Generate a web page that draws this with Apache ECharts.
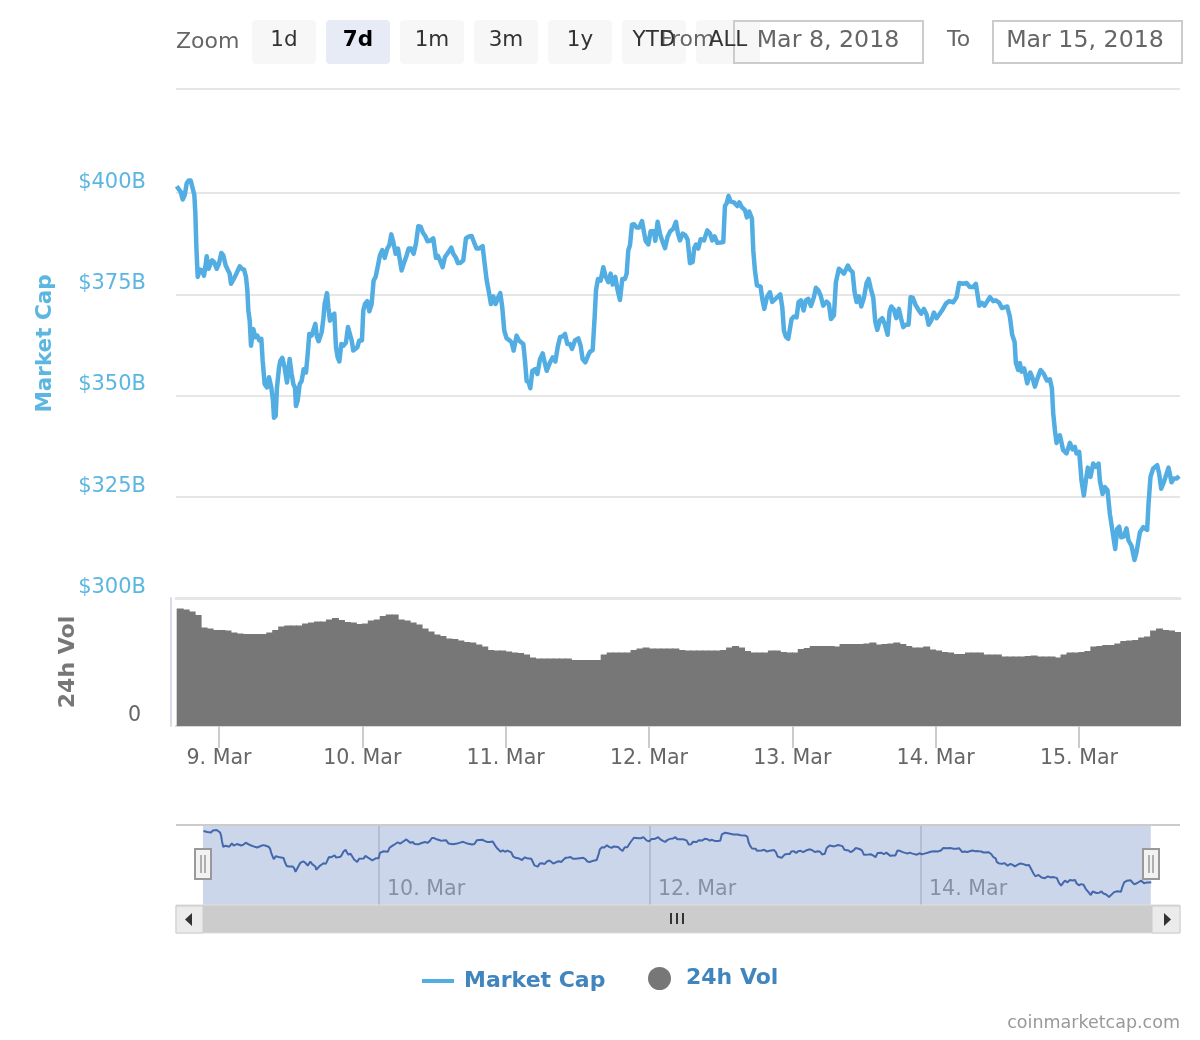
<!DOCTYPE html>
<html lang="en">
<head>
<meta charset="UTF-8">
<title>Market Cap</title>
<style>
  html, body { margin: 0; padding: 0; background: #fff; }
  #main { width: 1200px; height: 1040px; }
</style>
</head>
<body>
<div id="main"></div>
<script src="https://cdn.jsdelivr.net/npm/echarts@6/dist/echarts.min.js"></script>
<script>
// hours counted from 9 Mar 2018 00:00
const capHours = [
  -7.08,-6.75,-6.41,-6.08,-5.74,-5.41,-5.08,-4.74,-4.41,-4.13,
  -3.96,-3.79,-3.57,-3.18,-2.84,-2.51,-2.29,-2.06,-1.73,-1.50,
  -1.17,-0.83,-0.39,0.00,0.39,0.73,1.12,1.45,1.79,2.01,
  2.40,2.85,3.18,3.46,3.85,4.19,4.52,4.75,4.91,5.14,
  5.36,5.75,6.08,6.42,6.75,7.09,7.31,7.65,8.04,8.37,
  8.76,9.04,9.21,9.49,9.71,10.05,10.27,10.60,10.99,11.39,
  11.83,12.17,12.45,12.73,12.89,13.17,13.51,13.84,14.18,14.57,
  14.85,15.12,15.52,15.85,16.13,16.41,16.69,17.19,17.47,17.69,
  18.08,18.31,18.58,18.97,19.31,19.59,19.87,20.15,20.48,20.82,
  21.26,21.60,21.93,22.21,22.49,22.82,23.16,23.49,23.94,24.16,
  24.44,24.83,25.17,25.56,25.89,26.23,26.62,26.95,27.34,27.74,
  28.18,28.52,28.85,29.19,29.58,29.97,30.30,30.58,31.03,31.42,
  31.75,32.14,32.59,32.98,33.37,33.76,34.15,34.54,34.93,35.32,
  35.88,36.33,36.66,37.11,37.44,37.84,38.23,38.56,38.90,39.23,
  39.68,40.01,40.46,40.90,41.18,41.35,41.74,42.30,42.69,43.14,
  43.58,44.14,44.48,44.81,45.20,45.54,45.93,46.32,46.76,47.10,
  47.43,47.77,48.16,48.66,49.00,49.33,49.83,50.22,50.96,51.24,
  51.52,51.86,52.13,52.47,52.92,53.31,53.75,54.20,54.53,54.87,
  55.43,55.87,56.32,56.71,57.10,57.55,57.94,58.33,58.77,59.11,
  59.61,60.17,60.56,60.89,61.34,61.79,62.12,62.57,62.90,63.13,
  63.46,63.91,64.35,64.74,65.19,65.58,65.92,66.36,66.75,67.14,
  67.53,67.98,68.26,68.54,68.82,69.15,69.49,69.93,70.38,70.83,
  71.16,71.44,71.89,72.28,72.84,73.06,73.45,73.84,74.29,74.68,
  75.12,75.57,76.07,76.52,76.85,77.19,77.64,78.08,78.47,78.86,
  79.31,79.59,79.87,80.26,80.65,81.21,81.76,82.21,82.60,82.99,
  83.44,84.00,84.44,84.72,85.00,85.33,85.67,86.23,86.79,87.12,
  87.51,88.07,88.40,88.80,89.24,89.46,89.74,90.08,90.69,90.97,
  91.31,91.75,92.25,92.64,93.20,93.98,94.32,94.60,94.93,95.32,
  95.88,96.27,96.72,97.05,97.44,97.89,98.28,98.67,99.12,99.62,
  99.95,100.35,100.74,101.18,101.74,102.13,102.47,102.97,103.30,103.80,
  104.25,104.64,105.31,105.65,106.09,106.43,106.76,107.16,107.55,107.99,
  108.44,108.77,109.11,109.56,109.89,110.23,110.67,111.06,111.51,111.96,
  112.29,112.57,113.02,113.41,113.85,114.19,114.58,115.02,115.47,115.81,
  116.20,116.64,117.20,117.59,118.04,118.48,118.82,119.27,119.71,120.16,
  120.60,121.16,121.72,122.28,122.95,123.51,123.95,124.62,125.18,125.74,
  126.30,126.74,127.30,127.75,128.19,129.09,129.64,130.09,130.65,131.09,
  131.99,132.43,132.82,133.22,133.44,133.83,134.11,134.39,134.83,135.34,
  135.84,136.23,136.62,137.07,137.57,138.13,138.63,139.13,139.47,139.69,
  139.97,140.25,140.80,141.36,141.92,142.48,142.92,143.32,143.59,144.04,
  144.43,144.82,145.16,145.49,145.94,146.38,146.83,147.28,147.50,147.95,
  148.34,148.78,149.17,149.73,150.07,150.40,150.74,151.07,151.52,151.96,
  152.30,152.80,153.30,153.64,154.20,154.76,155.42,155.65,155.98,156.43,
  157.10,157.43,157.77,158.21,159.00,159.50,159.89,160.34,160.78
];
// market cap in $B
const capValues = [
  401.7,402.1,400.3,398.4,399.5,402.4,403.1,403.1,401.2,399.5,
  395.0,386.7,379.3,381.1,380.9,379.6,381.7,384.4,381.3,381.6,
  383.4,383.0,381.3,382.6,385.2,384.6,382.1,382.1,380.1,377.6,
  378.6,379.9,379.7,381.9,381.3,381.1,379.3,376.0,371.0,368.5,
  362.3,366.4,364.4,364.8,363.6,364.0,358.6,352.8,352.0,354.5,
  352.0,348.7,344.5,345.0,352.0,356.9,358.6,359.3,356.9,353.2,
  359.0,355.3,352.8,352.0,347.4,348.7,352.8,353.6,356.5,355.7,
  360.2,365.2,364.8,364.4,367.7,364.4,363.4,365.6,368.9,372.6,
  375.3,371.8,368.5,369.8,370.2,361.9,359.4,358.4,362.7,362.3,
  363.1,366.9,367.3,363.6,361.1,360.7,361.9,363.6,363.6,371.0,
  372.6,373.3,370.8,372.6,378.4,379.3,382.1,384.6,385.9,384.0,
  386.3,387.1,389.8,387.9,385.0,386.3,383.4,380.9,383.0,384.6,
  386.3,386.3,385.0,387.5,391.8,391.7,390.2,389.4,388.1,388.2,
  388.8,384.0,384.5,383.0,381.7,384.2,385.0,384.9,386.5,385.0,
  384.0,382.7,382.8,383.4,383.6,388.8,389.2,389.4,387.9,386.3,
  386.3,386.9,382.6,378.6,375.5,372.6,374.5,372.6,374.3,375.3,
  371.8,366.0,364.1,363.6,363.1,361.1,364.8,363.6,362.7,358.6,
  353.6,353.2,351.8,356.1,356.5,355.3,359.0,360.4,358.2,356.1,
  358.2,359.4,358.4,361.9,364.4,364.6,365.2,362.7,362.7,361.5,
  363.6,364.1,362.3,359.0,358.2,359.8,360.8,361.2,369.3,376.0,
  378.8,378.4,381.7,379.4,378.0,380.1,377.4,379.3,376.0,373.6,
  378.8,378.8,380.1,385.9,387.1,392.2,392.3,391.5,391.5,393.1,
  390.4,388.2,387.3,390.6,390.6,388.2,392.9,390.0,387.9,386.4,
  389.2,390.6,391.2,392.9,390.0,388.3,390.0,389.6,388.5,382.7,
  383.0,386.5,387.3,386.3,388.6,388.3,390.8,390.0,388.3,389.3,
  387.7,387.8,387.9,396.8,397.4,399.3,397.9,397.7,396.8,397.7,
  396.6,395.8,394.0,395.4,393.7,385.9,380.9,377.2,376.9,373.9,
  371.4,374.3,375.5,373.1,373.9,375.0,371.8,366.0,364.5,364.0,
  368.9,369.5,369.3,373.1,373.5,371.0,373.5,373.9,372.1,374.3,
  376.6,376.0,374.7,372.2,373.2,372.6,368.9,369.8,378.0,381.3,
  380.7,380.1,382.1,381.1,380.5,375.5,373.1,374.5,372.0,374.1,
  377.8,378.8,376.6,374.1,368.3,366.2,368.6,369.1,367.5,365.0,
  370.8,372.0,371.2,369.1,371.4,369.1,366.9,367.5,367.5,374.3,
  374.1,372.4,371.0,370.2,371.4,370.0,367.5,368.5,370.5,369.1,
  370.0,371.2,372.7,373.3,373.0,374.3,377.8,377.6,377.8,376.8,
  376.8,377.6,372.2,372.9,372.2,374.3,373.3,373.5,372.9,371.6,
  372.0,369.5,365.0,363.3,358.0,356.3,358.0,355.9,356.7,353.0,
  355.7,354.3,352.2,354.3,356.3,355.3,353.7,354.0,351.8,345.6,
  341.5,338.3,340.2,336.5,335.7,338.3,336.7,337.3,335.7,336.1,
  329.0,325.3,329.0,332.2,329.9,333.2,332.4,333.2,329.0,325.7,
  327.4,326.6,320.8,315.4,312.1,317.1,317.6,315.0,315.2,317.2,
  314.2,312.9,309.4,311.3,316.2,317.5,316.8,323.3,329.9,332.0,
  332.8,330.7,327.0,328.6,332.2,328.6,329.5,329.5,330.1
];
// 24h volume in $B, one bar per hour
const volValues = [
  23.5,23.3,22.9,22.2,19.7,19.5,19.2,19.2,19.1,18.7,
  18.5,18.4,18.4,18.4,18.4,18.7,19.2,19.9,20.1,20.1,
  20.1,20.5,20.7,20.9,20.9,21.3,21.6,21.2,20.8,20.7,
  20.4,20.5,21.1,21.3,22.0,22.3,22.3,21.3,21.1,20.7,
  20.3,19.5,18.9,18.3,18.0,17.5,17.4,17.1,16.8,16.7,
  16.3,15.9,15.2,15.1,15.1,14.9,14.7,14.6,14.3,13.7,
  13.5,13.5,13.5,13.5,13.5,13.5,13.2,13.2,13.2,13.2,
  13.2,14.3,14.7,14.7,14.7,14.7,15.2,15.5,15.7,15.5,
  15.5,15.5,15.5,15.5,15.2,15.1,15.1,15.1,15.1,15.1,
  15.1,15.2,15.7,16.0,15.7,15.0,14.7,14.7,14.7,15.1,
  15.1,14.8,14.7,14.7,15.4,15.6,16.0,16.0,16.0,16.0,
  15.9,16.4,16.4,16.4,16.4,16.5,16.7,16.3,16.4,16.5,
  16.7,16.4,16.0,15.7,15.7,15.9,15.3,15.1,14.8,14.7,
  14.4,14.4,14.7,14.7,14.7,14.3,14.3,14.3,13.9,13.9,
  13.9,13.9,14.0,14.1,13.9,13.9,13.9,13.7,14.3,14.7,
  14.7,14.8,15.0,15.9,16.0,16.2,16.2,16.5,17.0,17.1,
  17.2,17.7,17.9,19.1,19.5,19.2,19.1,18.8
];
const volStartHour = -6.5;
const capTicks = [300, 325, 350, 375, 400];
const dayHours = [0, 24, 48, 72, 96, 120, 144];
const dayLabels = ['9. Mar', '10. Mar', '11. Mar', '12. Mar', '13. Mar', '14. Mar', '15. Mar'];
const navDayHours = [24, 72, 120];
const navDayLabels = ['10. Mar', '12. Mar', '14. Mar'];
const zoomButtons = ['1d', '7d', '1m', '3m', '1y', 'YTD', 'ALL'];
const zoomSelected = '7d';
const fromDate = 'Mar 8, 2018';
const toDate = 'Mar 15, 2018';

const FONT = '"DejaVu Sans", sans-serif';
const CAP_COLOR = '#52ade3';
const CAP_TEXT = '#5cb6e2';
const GRID_COLOR = '#e6e6e6';
const VOL_COLOR = '#777777';

const capLine = capHours.map((h, i) => [h, capValues[i]]);
const volBars = volValues.map((v, i) => [volStartHour + i, v]);

const dayLabel = v => dayLabels[dayHours.indexOf(v)];
const navLabel = v => navDayLabels[navDayHours.indexOf(v)];

// range selector, date inputs, scrollbar
function textEl(text, x, y, size, color, extra) {
  return {
    type: 'text', x: x, y: y, z: 20,
    style: Object.assign({ text: text, font: size + 'px ' + FONT, fill: color, verticalAlign: 'middle' }, extra)
  };
}
function rectEl(x, y, w, h, fill, stroke, r, lineWidth) {
  return {
    type: 'rect', z: 10,
    shape: { x: x, y: y, width: w, height: h, r: r || 0 },
    style: { fill: fill, stroke: stroke || null, lineWidth: lineWidth || 0 }
  };
}
function lineEl(x1, y1, x2, y2, color, width) {
  return {
    type: 'line', z: 15,
    shape: { x1: x1, y1: y1, x2: x2, y2: y2 },
    style: { stroke: color, lineWidth: width }
  };
}
function triEl(points) {
  return { type: 'polygon', z: 15, shape: { points: points }, style: { fill: '#333' } };
}
function handleEls(left) {
  return [
    rectEl(left, 849, 16, 30, '#f2f2f2', '#999', 0, 2),
    lineEl(left + 6, 855, left + 6, 873, '#999', 1.5),
    lineEl(left + 10, 855, left + 10, 873, '#999', 1.5)
  ];
}

const graphics = [
  textEl('Zoom', 176, 42, 22, '#666'),
  textEl('From', 660, 40, 22, '#666'),
  textEl('To', 947, 40, 22, '#666'),
  lineEl(176, 825, 1180, 825, '#cccccc', 2),
  rectEl(176, 905, 1004, 28, '#cccccc', '#dddddd', 0, 1),
  rectEl(176, 906, 27, 27, '#ebebeb', '#cccccc', 0, 1),
  rectEl(1152, 906, 28, 27, '#ebebeb', '#cccccc', 0, 1),
  triEl([[192, 913], [192, 926], [185, 919.5]]),
  triEl([[1164, 913], [1164, 926], [1171, 919.5]]),
  lineEl(671, 913, 671, 924, '#333', 2),
  lineEl(677, 913, 677, 924, '#333', 2),
  lineEl(683, 913, 683, 924, '#333', 2),
  textEl('coinmarketcap.com', 1180, 1023, 17.5, '#999', { align: 'right' })
];
zoomButtons.forEach((name, i) => {
  const left = 252 + i * 74;
  const on = name === zoomSelected;
  graphics.push(rectEl(left, 20, 64, 44, on ? '#e6ebf5' : '#f7f7f7', null, 4));
  graphics.push(textEl(name, left + 32, 40, 21.5, on ? '#000' : '#333', {
    align: 'center', font: (on ? 'bold ' : '') + '21.5px ' + FONT
  }));
});
[[734, fromDate, 94], [993, toDate, 92]].forEach(([left, date, mid]) => {
  graphics.push(rectEl(left, 21, 189, 42, 'transparent', '#cccccc', 0, 2));
  graphics.push(textEl(date, left + mid, 41, 23.7, '#666', { align: 'center' }));
});
handleEls(195).forEach(e => graphics.push(e));
handleEls(1143).forEach(e => graphics.push(e));

const option = {
  animation: false,
  backgroundColor: '#fff',
  textStyle: { fontFamily: FONT },
  grid: [
    { left: 176, width: 1004, top: 89, height: 509 },
    { left: 176, width: 1004, top: 598, height: 128 },
    { left: 176, width: 1004, top: 825, height: 80 }
  ],
  xAxis: [
    {
      gridIndex: 0, type: 'value', min: -7.2, max: 160.92,
      splitLine: { show: false }, axisTick: { show: false }, axisLabel: { show: false },
      axisLine: { show: true, lineStyle: { color: GRID_COLOR, width: 3 } }
    },
    {
      gridIndex: 1, type: 'value', min: -7.2, max: 160.92,
      splitLine: { show: false },
      axisLine: { show: true, lineStyle: { color: '#d5d8de', width: 2 } },
      axisTick: { show: true, length: 22, customValues: dayHours, lineStyle: { color: '#cccccc', width: 2 } },
      axisLabel: {
        show: true, customValues: dayHours, formatter: dayLabel, margin: 22,
        color: '#666', fontSize: 20.6, fontFamily: FONT, showMinLabel: true, showMaxLabel: true
      }
    },
    {
      gridIndex: 2, type: 'value', min: -11.95, max: 165.87,
      splitLine: { show: false },
      axisLine: { show: false },
      axisTick: { show: true, inside: true, length: 80, customValues: navDayHours, lineStyle: { color: '#dcdcdc', width: 2 } },
      axisLabel: {
        show: true, inside: true, customValues: navDayHours, formatter: navLabel, margin: 5,
        align: 'left', padding: [0, 0, 0, 8], color: '#999', fontSize: 20.6, fontFamily: FONT
      }
    }
  ],
  yAxis: [
    {
      gridIndex: 0, type: 'value', min: 300, max: 425.7,
      name: 'Market Cap', nameLocation: 'middle', nameGap: 120,
      nameTextStyle: { color: CAP_TEXT, fontSize: 21.5, fontWeight: 'bold', fontFamily: FONT },
      axisLine: { show: false, onZero: false },
      axisTick: { show: false, customValues: capTicks.concat([425.7]) },
      splitLine: { show: true, lineStyle: { color: GRID_COLOR, width: 2 } },
      axisLabel: {
        customValues: capTicks, formatter: v => '$' + v + 'B', margin: 30,
        verticalAlign: 'bottom', color: CAP_TEXT, fontSize: 21, fontFamily: FONT
      }
    },
    {
      gridIndex: 1, type: 'value', min: 0, max: 25.6, offset: 5,
      name: '24h Vol', nameLocation: 'middle', nameGap: 92,
      nameTextStyle: { color: '#777', fontSize: 22, fontWeight: 'bold', fontFamily: FONT },
      axisLine: { show: true, onZero: false, lineStyle: { color: '#d9dce8', width: 2 } },
      axisTick: { show: false, customValues: [0] },
      splitLine: { show: false },
      axisLabel: {
        customValues: [0], margin: 30, verticalAlign: 'bottom',
        color: '#666', fontSize: 20.6, fontFamily: FONT
      }
    },
    {
      gridIndex: 2, type: 'value', min: 298.2, max: 410, show: false
    }
  ],
  legend: [
    {
      data: ['Market Cap'], left: 417, top: 965, icon: 'rect', itemWidth: 32, itemHeight: 4,
      selectedMode: false,
      textStyle: { color: '#4085bd', fontSize: 22, fontWeight: 'bold', fontFamily: FONT, padding: [0, 0, 0, 5] }
    },
    {
      data: ['24h Vol'], left: 643, top: 962, icon: 'circle', itemWidth: 23, itemHeight: 23,
      selectedMode: false,
      textStyle: { color: '#4085bd', fontSize: 22, fontWeight: 'bold', fontFamily: FONT, padding: [3, 0, 0, 10] }
    }
  ],
  series: [
    {
      name: 'Market Cap', type: 'line', xAxisIndex: 0, yAxisIndex: 0,
      data: capLine, showSymbol: false, smooth: false,
      lineStyle: { color: CAP_COLOR, width: 4.5, join: 'round' }, itemStyle: { color: CAP_COLOR }
    },
    {
      name: '24h Vol', type: 'bar', xAxisIndex: 1, yAxisIndex: 1,
      data: volBars, barWidth: 7, itemStyle: { color: VOL_COLOR }
    },
    {
      name: 'Navigator', type: 'line', xAxisIndex: 2, yAxisIndex: 2,
      data: capLine, showSymbol: false,
      lineStyle: { color: '#4468ac', width: 2 }, itemStyle: { color: '#4468ac' },
      markArea: {
        silent: true,
        itemStyle: { color: 'rgba(100,130,190,0.33)' },
        data: [[{ xAxis: -7.17 }, { xAxis: 160.7 }]]
      }
    }
  ],
  graphic: graphics
};

const myChart = echarts.init(document.getElementById('main'), null, { renderer: 'canvas' });
myChart.setOption(option);
</script>
</body>
</html>
